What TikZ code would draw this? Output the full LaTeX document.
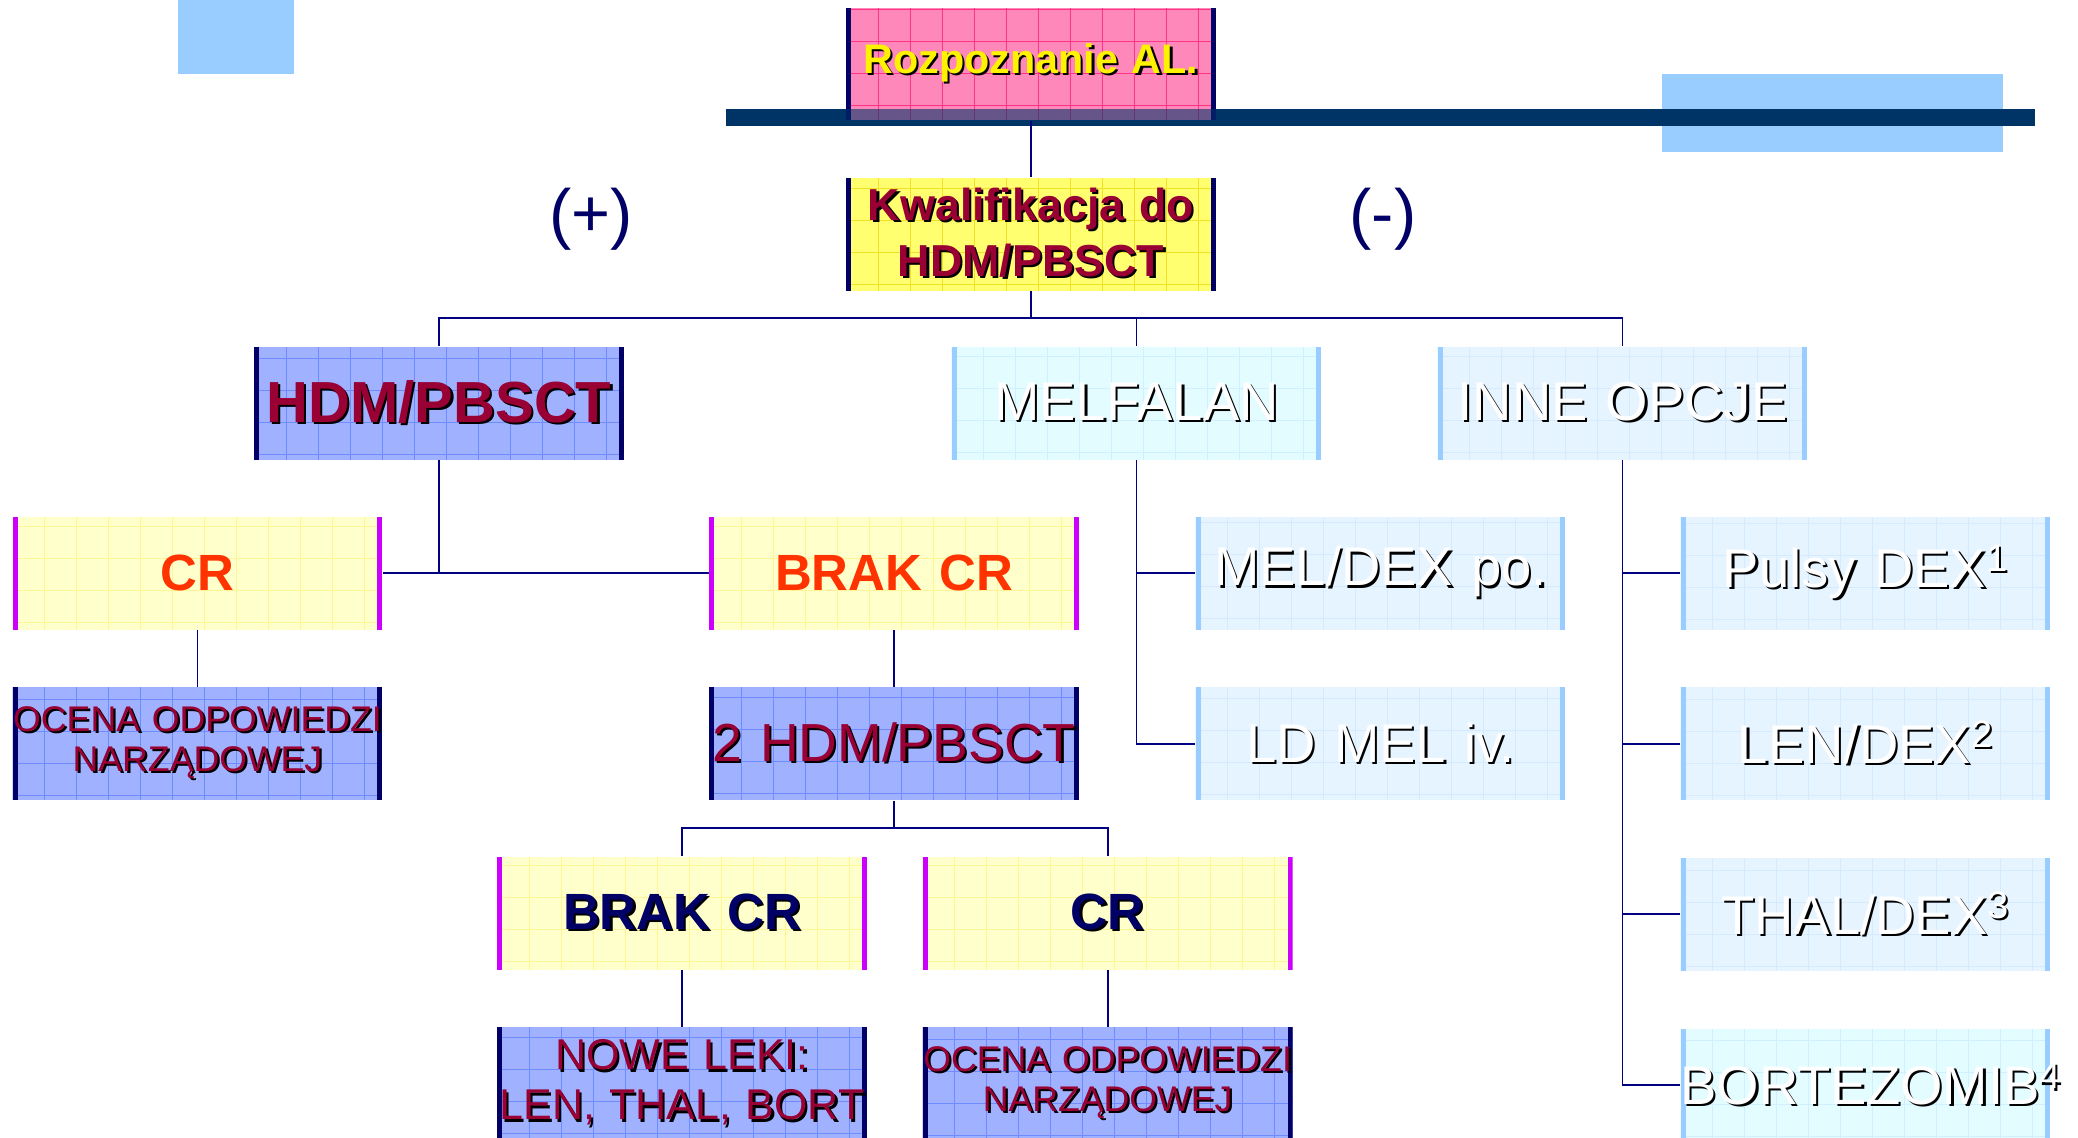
\documentclass[tikz,border=0pt]{standalone}
\usepackage{fontspec}
\setmainfont{Liberation Sans}
\usetikzlibrary{positioning,calc}
\definecolor{Granat}{RGB}{0,0,102}
\definecolor{GranatPasek}{RGB}{0,51,102}
\definecolor{Linia}{RGB}{0,0,128}
\definecolor{Roz}{RGB}{255,136,187}
\definecolor{RozSiatka}{RGB}{255,51,136}
\definecolor{Zolty}{RGB}{255,255,112}
\definecolor{ZoltySiatka}{RGB}{240,225,40}
\definecolor{ZoltyBlady}{RGB}{255,255,204}
\definecolor{ZoltyBladySiatka}{RGB}{255,245,150}
\definecolor{Fiolet}{RGB}{204,0,255}
\definecolor{Niebieski}{RGB}{160,178,255}
\definecolor{NiebieskiSiatka}{RGB}{110,140,255}
\definecolor{Blekit}{RGB}{230,244,255}
\definecolor{BlekitSiatka}{RGB}{204,230,255}
\definecolor{BlekitBrzeg}{RGB}{153,204,255}
\definecolor{Turkus}{RGB}{226,252,255}
\definecolor{TurkusSiatka}{RGB}{200,244,255}
\definecolor{Bordo}{RGB}{153,0,51}
\definecolor{Pomarancz}{RGB}{255,51,0}
\newcommand{\cien}[2][black]{\leavevmode\rlap{\kern0.045cm\raisebox{-0.045cm}{\color{#1}#2}}\mbox{#2}}
\tikzset{
  pasek/.style 2 args={path picture={
      \draw[#1, line width=0.5pt, step=0.64cm]
        (path picture bounding box.south west) grid (path picture bounding box.north east);
      \fill[#2] (path picture bounding box.south west)
        rectangle ([xshift=0.1cm]path picture bounding box.north west);
      \fill[#2] (path picture bounding box.south east)
        rectangle ([xshift=-0.1cm]path picture bounding box.north east);
    }},
  kartabox/.style={text width=7.4cm, minimum height=2.26cm, inner sep=0pt, align=center},
  rozbox/.style={kartabox, fill=Roz, pasek={RozSiatka}{Granat}, text=yellow,
    font=\fontsize{23.5}{28}\selectfont\bfseries},
  kwalbox/.style={kartabox, fill=Zolty, pasek={ZoltySiatka}{Granat}, text=Bordo,
    font=\fontsize{25.5}{31.8}\selectfont\bfseries},
  terapiabox/.style={kartabox, fill=Niebieski, pasek={NiebieskiSiatka}{Granat}, text=Bordo},
  wynikbox/.style={kartabox, fill=ZoltyBlady, pasek={ZoltyBladySiatka}{Fiolet},
    font=\fontsize{29}{33}\selectfont\bfseries},
  opcjabox/.style={kartabox, fill=#1, pasek={#1!75!BlekitBrzeg}{BlekitBrzeg}, text=white,
    font=\fontsize{31}{35}\selectfont},
  opcjabox/.default=Blekit,
  linia/.style={draw=Linia, line width=1.1pt},
}

\begin{document}
\begin{tikzpicture}[x=0.02cm, y=-0.02cm,
    znak/.style={text=Granat, font=\fontsize{38}{44}\selectfont}
  ]
  \path[use as bounding box, clip] (0,0) rectangle (2078,1137);
  % tlo
  \fill[BlekitBrzeg] (178,0) rectangle (294,74);
  \fill[BlekitBrzeg] (1662,74) rectangle (2003,152);
  \coordinate (pasekL) at (726,109);
  \coordinate (pasekP) at (2035,126);
  \fill[GranatPasek] (pasekL) rectangle (pasekP);

  \node[rozbox] (rozp) at (1031,64) {\cien{Rozpoznanie AL.}};
  \fill[GranatPasek, opacity=0.6] (rozp.south west |- pasekL) rectangle (rozp.south east);
  \node[kwalbox] (kwal) at (1031,234) {\cien{Kwalifikacja do}\\ \cien{HDM/PBSCT}};
  \node[znak] (plus) at (591,219) {(+)};
  \node[znak] (minus) at (1383,219) {(-)};

  % poziom 2
  \node[terapiabox, font=\fontsize{33}{38}\selectfont\bfseries] (hdm) at (439,403) {\cien{HDM/PBSCT}};
  \node[opcjabox=Turkus] (melf) at (1136.5,403) {\cien{MELFALAN}};
  \node[opcjabox] (inne) at (1622.5,403) {\cien{INNE OPCJE}};
  \coordinate (szyna) at (1031,318);

  % lewa galaz
  \node[wynikbox, text=Pomarancz] (cr1) at (197.5,573) {CR};
  \node[wynikbox, text=Pomarancz] (brak1) at (894,573) {BRAK CR};
  \node[terapiabox, font=\fontsize{20.3}{22.7}\selectfont, below=1.14cm of cr1] (ocena1)
    {\cien{OCENA ODPOWIEDZI}\\ \cien{NARZĄDOWEJ}};
  \node[terapiabox, font=\fontsize{30.5}{34}\selectfont, below=1.14cm of brak1] (hdm2) {\cien{2 HDM/PBSCT}};
  \node[wynikbox, text=Granat] (brak2) at (682,913) {\cien{BRAK CR}};
  \node[wynikbox, text=Granat, right=1.1cm of brak2] (cr2) {\cien{CR}};
  \node[terapiabox, font=\fontsize{24.5}{28.5}\selectfont, below=1.14cm of brak2] (nowe)
    {\cien{NOWE LEKI:}\\ \cien{LEN, THAL, BORT}};
  \node[terapiabox, font=\fontsize{20.3}{22.7}\selectfont, below=1.14cm of cr2] (ocena2)
    {\cien{OCENA ODPOWIEDZI}\\ \cien{NARZĄDOWEJ}};

  % prawe galezie
  \node[opcjabox] (meldex) at (1380.5,573) {\cien{MEL/DEX po.}};
  \node[opcjabox, below=1.14cm of meldex] (ldmel) {\cien{LD MEL iv.}};
  \node[opcjabox] (pulsy) at (1865.5,573) {\cien{Pulsy DEX\textsuperscript{1}}};
  \node[opcjabox, below=1.14cm of pulsy] (lendex) {\cien{LEN/DEX\textsuperscript{2}}};
  \node[opcjabox, below=1.14cm of lendex] (thal) {\cien{THAL/DEX\textsuperscript{3}}};
  \node[opcjabox=Turkus, below=1.14cm of thal] (bort) {\cien{BORTEZOMIB\textsuperscript{4}}};

  % polaczenia
  \draw[linia] (rozp.south) -- (kwal.north);
  \draw[linia] (kwal.south) -- (szyna);
  \draw[linia] (hdm.north) |- (szyna) -| (inne.north);
  \draw[linia] (melf.north) -- (melf.north |- szyna);
  \draw[linia] (hdm.south) |- (cr1.east);
  \draw[linia] (cr1.east) -- (brak1.west);
  \draw[linia] (cr1.south) -- (ocena1.north);
  \draw[linia] (brak1.south) -- (hdm2.north);
  \coordinate (rozw) at ($(hdm2.south)!0.5!(hdm2.south |- brak2.north)$);
  \draw[linia] (hdm2.south) -- (rozw);
  \draw[linia] (brak2.north) |- (rozw) -| (cr2.north);
  \draw[linia] (brak2.south) -- (nowe.north);
  \draw[linia] (cr2.south) -- (ocena2.north);
  \draw[linia] (melf.south) |- (ldmel.west);
  \draw[linia] (meldex.west) -- (meldex.west -| melf.south);
  \draw[linia] (inne.south) |- (bort.west);
  \foreach \n in {pulsy,lendex,thal}
    \draw[linia] (\n.west) -- (\n.west -| inne.south);
\end{tikzpicture}
\end{document}
